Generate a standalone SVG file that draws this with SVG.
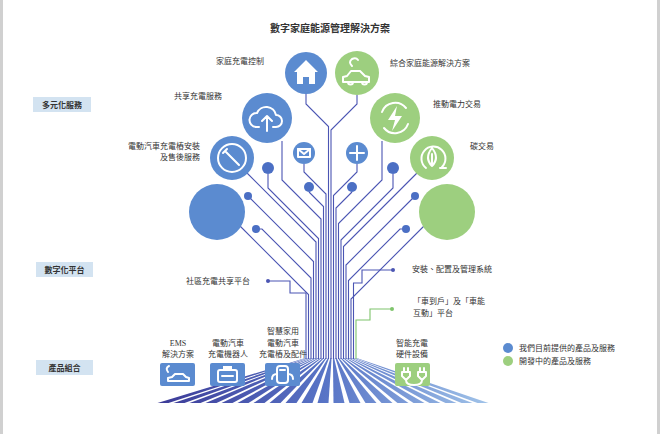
<svg xmlns="http://www.w3.org/2000/svg" width="660" height="434" viewBox="0 0 660 434">
<style>
text{font-family:"Liberation Serif","Noto Sans CJK TC",serif;fill:#333;font-size:8px}
.cat{font-family:"Liberation Sans","Noto Sans CJK TC",sans-serif;font-weight:bold;font-size:8px;fill:#333}
.t{fill:none;stroke:#4b55b3;stroke-width:1.1}
.g{fill:none;stroke:#7fc46c;stroke-width:1.1}
.b{fill:#5b8bd0}.gr{fill:#9dcf7f}
.ic{fill:none;stroke:#fff;stroke-width:2;stroke-linecap:round;stroke-linejoin:round}
.w{fill:#fff}
.catbox{fill:#d3e3f1}
</style>
<defs>
<linearGradient id="fan" gradientUnits="userSpaceOnUse" x1="155" y1="0" x2="495" y2="0">
<stop offset="0" stop-color="#3b3996"/><stop offset="0.5" stop-color="#5874c6"/><stop offset="1" stop-color="#a3c6ea"/>
</linearGradient>
</defs>
<rect x="0" y="0" width="660" height="434" fill="#fff"/>
<line x1="1.5" y1="0" x2="1.5" y2="434" stroke="#d0d0d0" stroke-width="3"/>
<line x1="658.5" y1="0" x2="658.5" y2="434" stroke="#d0d0d0" stroke-width="3"/>
<text x="330" y="32" text-anchor="middle" class="cat" style="font-size:10px">數字家庭能源管理解決方案</text>
<g id="cat1"><rect class="catbox" x="33" y="97" width="58" height="15"/><text class="cat" x="62" y="108" text-anchor="middle">多元化服務</text></g>
<g id="cat2"><rect class="catbox" x="36" y="262" width="57" height="15"/><text class="cat" x="64.500" y="273" text-anchor="middle">數字化平台</text></g>
<g id="cat3"><rect class="catbox" x="36" y="360" width="57" height="15"/><text class="cat" x="64.500" y="371" text-anchor="middle">產品組合</text></g>

<g id="connectors">
<g id="fanstripes" fill="url(#fan)">
<polygon points="305.4,358 306.6,358 168.5,403 157.5,403"/>
<polygon points="307.9,358 309.1,358 184.5,403 173.5,403"/>
<polygon points="310.4,358 311.6,358 200.5,403 189.5,403"/>
<polygon points="312.9,358 314.1,358 216.5,403 205.5,403"/>
<polygon points="315.4,358 316.6,358 232.5,403 221.5,403"/>
<polygon points="317.9,358 319.1,358 248.5,403 237.5,403"/>
<polygon points="320.4,358 321.6,358 264.5,403 253.5,403"/>
<polygon points="322.9,358 324.1,358 280.5,403 269.5,403"/>
<polygon points="325.4,358 326.6,358 296.5,403 285.5,403"/>
<polygon points="327.9,358 329.1,358 312.5,403 301.5,403"/>
<polygon points="330.4,358 331.6,358 328.5,403 317.5,403"/>
<polygon points="332.9,358 334.1,358 344.5,403 333.5,403"/>
<polygon points="335.4,358 336.6,358 360.5,403 349.5,403"/>
<polygon points="337.9,358 339.1,358 376.5,403 365.5,403"/>
<polygon points="340.4,358 341.6,358 392.5,403 381.5,403"/>
<polygon points="342.9,358 344.1,358 408.5,403 397.5,403"/>
<polygon points="345.4,358 346.6,358 424.5,403 413.5,403"/>
<polygon points="347.9,358 349.1,358 440.5,403 429.5,403"/>
<polygon points="350.4,358 351.6,358 456.5,403 445.5,403"/>
<polygon points="352.9,358 354.1,358 472.5,403 461.5,403"/>
<polygon points="355.4,358 356.6,358 488.5,403 477.5,403"/>
</g>
<polyline class="t" points="268,281 290,281 290,293 306,293 306,359"/>
<polyline class="t" points="240,226 308.5,294.5 308.5,359"/>
<polyline class="t" points="256,229 262,229 311,278 311,359"/>
<polyline class="t" points="248,196 313.5,261.5 313.5,359"/>
<polyline class="t" points="246,172 316,242 316,359"/>
<polyline class="t" points="268,174 268,188 318.5,238.5 318.5,359"/>
<polyline class="t" points="282,141 282,180 321,219 321,359"/>
<polyline class="t" points="309,192 323.5,206.5 323.5,359"/>
<polyline class="t" points="304,164 304,172 326,194 326,359"/>
<polyline class="t" points="306,94 306,104 328.5,126.5 328.5,359"/>
<polyline class="t" points="357,95 357,104 331,130 331,359"/>
<polyline class="t" points="357,164 357,172 333.5,195.5 333.5,359"/>
<polyline class="t" points="352,192 336,208 336,359"/>
<polyline class="t" points="382,141 382,180 338.5,223.5 338.5,359"/>
<polyline class="t" points="393,174 393,188 341,240 341,359"/>
<polyline class="t" points="418,172 343.5,246.5 343.5,359"/>
<polyline class="t" points="415,196 346,265 346,359"/>
<polyline class="t" points="406,229 400,229 348.5,280.5 348.5,359"/>
<polyline class="t" points="424,226 351,299 351,359"/>
<polyline class="t" points="393,270 362,270 362,283 353.5,283 353.5,359"/>
<polyline class="g" points="392,309 370,309 370,320 356,320 356,359"/>
<circle cx="268" cy="281" r="2" fill="#4b55b3"/>
<circle cx="393" cy="270" r="2" fill="#4b55b3"/>
<circle cx="392" cy="309" r="2" fill="#7fc46c"/>
</g>

<g id="n-house"><circle class="b" cx="306" cy="73" r="21"/><polygon class="w" points="306,60 294,72 297,72 297,84 303,84 303,77 309,77 309,84 315,84 315,72 318,72"/></g>
<g id="n-car"><circle class="gr" cx="357" cy="73" r="22"/><path class="ic" stroke-width="1.3" d="M343,82 v-5 l4,-1 4,-5 h9 l5,5 4,1 v5 z M348,82 a2.5,2.5 0 0 0 5,0 M362,82 a2.5,2.5 0 0 0 5,0 M352,66 q-4,-4 0,-7 q4,-2 6,1"/></g>
<g id="n-cloud"><circle class="b" cx="267" cy="118" r="25"/><path class="ic" d="M259,127 h-3 a7,7 0 0 1 1,-14 a10,10 0 0 1 19,2 a6,6 0 0 1 0,12 h-3 M267,131 v-14 M262,121 l5,-5 5,5"/></g>
<g id="n-bolt"><circle class="gr" cx="395" cy="118" r="25"/><path class="ic" d="M382,112 a14,14 0 0 1 24,-4 M408,124 a14,14 0 0 1 -24,4"/><polygon class="w" points="397,106 388,120 395,120 392,131 402,116 395,116"/></g>
<g id="n-wrench"><circle class="b" cx="232" cy="158" r="22"/><circle class="ic" cx="232" cy="158" r="14"/><path class="ic" stroke-width="3" d="M225,151 l14,14 M223,153 l4,-4"/></g>
<g id="n-leaf"><circle class="gr" cx="432" cy="158" r="22"/><path class="ic" stroke-width="1.3" d="M426,168 a12,12 0 1 1 16,-1 M432,166 q-8,-8 0,-18 q8,10 0,18 z M432,166 v-12 M440,168 h6"/></g>
<g id="n-mail"><circle class="b" cx="304" cy="153" r="11"/><rect x="298" y="149" width="12" height="8" class="ic" stroke-width="1.2"/><path class="ic" stroke-width="1.2" d="M298,149 l6,5 6,-5"/></g>
<g id="n-plus"><circle class="b" cx="357" cy="153" r="11"/><path class="ic" stroke-width="4" stroke-linecap="butt" d="M357,146 v14 M350,153 h14"/></g>
<g id="n-bigblue"><circle class="b" cx="217" cy="212" r="28"/></g>
<g id="n-biggreen"><circle class="gr" cx="447" cy="212" r="28"/></g>
<g id="dots" fill="#4b6fc4">
<circle cx="268" cy="168" r="6"/><circle cx="309" cy="187" r="5"/><circle cx="352" cy="187" r="5"/><circle cx="393" cy="168" r="6"/>
<circle cx="248" cy="196" r="4"/><circle cx="415" cy="196" r="4"/><circle cx="256" cy="229" r="4"/><circle cx="406" cy="229" r="4"/>
</g>

<g id="labels">
<text x="264" y="64" text-anchor="end">家庭充電控制</text>
<text x="390" y="66">綜合家庭能源解決方案</text>
<text x="222" y="99" text-anchor="end">共享充電服務</text>
<text x="433" y="107">推動電力交易</text>
<text x="200" y="149" text-anchor="end">電動汽車充電樁安裝</text>
<text x="200" y="160" text-anchor="end">及售後服務</text>
<text x="470" y="149">碳交易</text>
<text x="250" y="284" text-anchor="end">社區充電共享平台</text>
<text x="412" y="272">安裝、配置及管理系統</text>
<text x="413" y="304">「車到戶」及「車能</text>
<text x="413" y="316">互動」平台</text>
</g>

<g id="p-ems"><rect class="b" x="160" y="363" width="35" height="23" rx="2"/><path class="ic" stroke-width="1" d="M168,381 v-3 l4,-1 3,-3 h8 l3,3 3,1 v3 z M168,372 q-3,-4 1,-6"/><text x="178" y="346" text-anchor="middle">EMS</text><text x="178" y="357" text-anchor="middle">解決方案</text></g>
<g id="p-robot"><rect class="b" x="210" y="363" width="35" height="23" rx="2"/><rect x="218" y="370" width="19" height="12" rx="2" class="ic" stroke-width="1.3"/><rect x="223" y="366" width="9" height="4" class="w"/><line x1="222" y1="376" x2="233" y2="376" class="ic" stroke-width="1"/><text x="228" y="346" text-anchor="middle">電動汽車</text><text x="228" y="357" text-anchor="middle">充電機器人</text></g>
<g id="p-smart"><rect class="b" x="265" y="363" width="35" height="23" rx="2"/><rect x="277" y="366" width="11" height="17" rx="3" class="ic" stroke-width="1.2"/><path class="ic" stroke-width="1" d="M277,374 q-5,0 -5,5 M288,374 q5,0 5,5 M280,370 h5"/><text x="283" y="334" text-anchor="middle">智慧家用</text><text x="283" y="346" text-anchor="middle">電動汽車</text><text x="283" y="357" text-anchor="middle">充電樁及配件</text></g>
<g id="p-hw"><rect class="gr" x="395" y="363" width="35" height="23" rx="2"/><path class="ic" stroke-width="1.5" d="M404,368 v4 M408,368 v4 M420,368 v4 M424,368 v4 M402,372 h8 v4 l-4,4 -4,-4 z M418,372 h8 v4 l-4,4 -4,-4 z M406,380 q0,5 8,5 q8,0 8,-5"/><text x="412" y="346" text-anchor="middle">智能充電</text><text x="412" y="357" text-anchor="middle">硬件設備</text></g>

<g id="legend">
<circle class="b" cx="508" cy="348" r="5"/><text x="519" y="351">我們目前提供的產品及服務</text>
<circle class="gr" cx="508" cy="361" r="5"/><text x="519" y="364">開發中的產品及服務</text>
</g>
</svg>
